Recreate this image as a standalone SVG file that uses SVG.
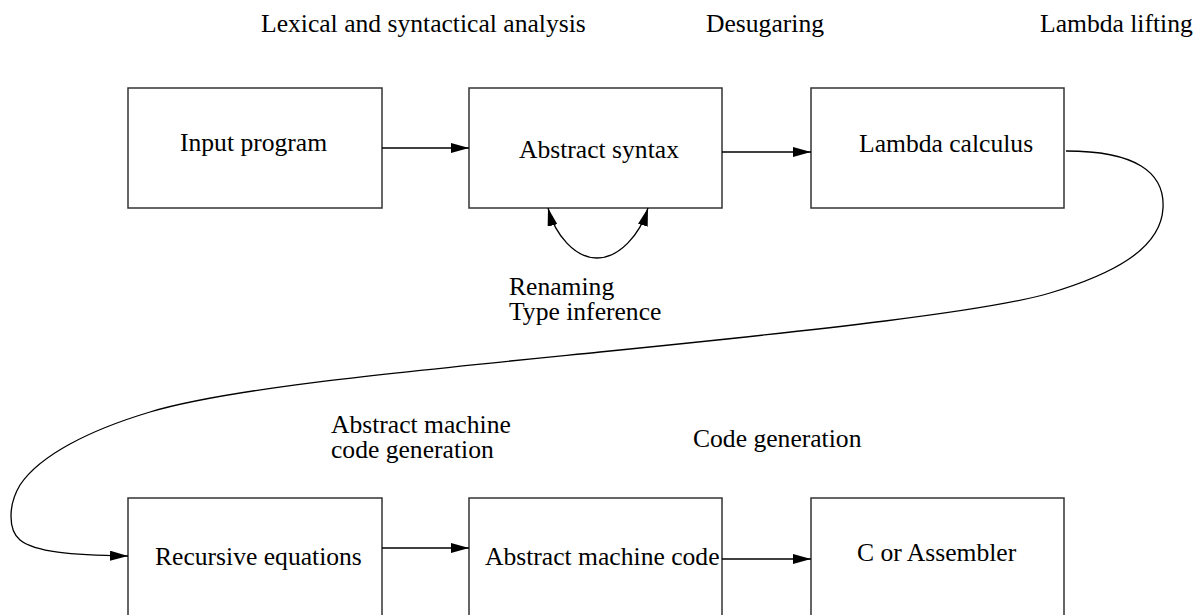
<svg xmlns="http://www.w3.org/2000/svg" width="1199" height="615" viewBox="0 0 1199 615">
  <style>
    .box { fill: #fff; stroke: #333; stroke-width: 1.5; }
    .lbl { font-family: "Liberation Serif", "Times New Roman", serif; font-size: 25.6px; fill: #000; }
    .edge { fill: none; stroke: #000; stroke-width: 1.3; }
  </style>
  <defs>
    <marker id="arrow" markerUnits="userSpaceOnUse" markerWidth="20" markerHeight="12" refX="18" refY="5" orient="auto">
      <path d="M0,0 L18,5 L0,10 Z" fill="#000"/>
    </marker>
  </defs>
  <rect width="1199" height="615" fill="#fff"/>

  <!-- phase labels -->
  <text class="lbl" x="261" y="32">Lexical and syntactical analysis</text>
  <text class="lbl" x="706" y="32">Desugaring</text>
  <text class="lbl" x="1040" y="32">Lambda lifting</text>
  <text class="lbl" x="509" y="295">Renaming</text>
  <text class="lbl" x="509" y="320">Type inference</text>
  <text class="lbl" x="331" y="433">Abstract machine</text>
  <text class="lbl" x="331" y="458">code generation</text>
  <text class="lbl" x="693" y="447">Code generation</text>

  <!-- nodes -->
  <g id="input-program">
    <rect class="box" x="128" y="88" width="254" height="120"/>
    <text class="lbl" x="180" y="151">Input program</text>
  </g>
  <g id="abstract-syntax">
    <rect class="box" x="469" y="88" width="253" height="120"/>
    <text class="lbl" x="519" y="158">Abstract syntax</text>
  </g>
  <g id="lambda-calculus">
    <rect class="box" x="811" y="88" width="253" height="120"/>
    <text class="lbl" x="859" y="152">Lambda calculus</text>
  </g>
  <g id="recursive-equations">
    <rect class="box" x="128" y="498" width="254" height="120"/>
    <text class="lbl" x="155" y="565">Recursive equations</text>
  </g>
  <g id="abstract-machine-code">
    <rect class="box" x="469" y="498" width="253" height="120"/>
    <text class="lbl" x="485" y="565">Abstract machine code</text>
  </g>
  <g id="c-or-assembler">
    <rect class="box" x="811" y="498" width="253" height="120"/>
    <text class="lbl" x="857" y="561">C or Assembler</text>
  </g>

  <!-- connectors -->
  <g id="connectors">
    <path class="edge" d="M382,148 L469,148" marker-end="url(#arrow)"/>
    <path class="edge" d="M722,152 L811,152" marker-end="url(#arrow)"/>
    <path class="edge" d="M1066,151 C1135,151 1165,172 1163,208 C1161,250 1110,275 1050,293 C990,311 820,330 600,352 C400,372 230,388 150,412 C90,430 40,455 20,485 C8,505 8,530 20,540 C35,552 70,555 128,556" marker-end="url(#arrow)"/>
    <path class="edge" d="M597,258 C575,258 555,235 548,208" marker-end="url(#arrow)"/>
    <path class="edge" d="M597,258 C619,258 640,235 648,208" marker-end="url(#arrow)"/>
    <path class="edge" d="M382,548 L469,548" marker-end="url(#arrow)"/>
    <path class="edge" d="M722,559 L811,559" marker-end="url(#arrow)"/>
  </g>
</svg>
